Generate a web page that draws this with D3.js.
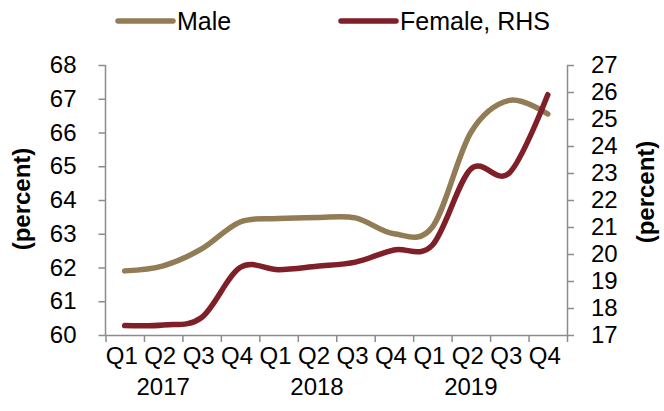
<!DOCTYPE html>
<html><head><meta charset="utf-8">
<script src="https://cdn.jsdelivr.net/npm/d3@7"></script>
<style>
body{margin:0;background:#fff}
svg{display:block}
text{font-family:"Liberation Sans",Arial,sans-serif;fill:#000}
</style>
</head><body><svg id="c" width="664" height="411"></svg>
<script>
const quarters = ["Q1","Q2","Q3","Q4","Q1","Q2","Q3","Q4","Q1","Q2","Q3","Q4"];
const years = ["2017","2018","2019"];
const male = [61.9, 62.05, 62.55, 63.35, 63.45, 63.48, 63.47, 63.0, 63.2, 66.0, 66.95, 66.55];
const female = [17.35, 17.37, 17.65, 19.5, 19.42, 19.55, 19.7, 20.15, 20.33, 23.15, 23.0, 25.9];
const leftTicks = [60, 61, 62, 63, 64, 65, 66, 67, 68];
const rightTicks = [17, 18, 19, 20, 21, 22, 23, 24, 25, 26, 27];
const seriesNames = ["Male", "Female, RHS"];
const colors = ["#927c56", "#7f1f28"];

const svg = d3.select("#c");
const AX = "#8c8c8c";
const FS = 24;

const x = d3.scaleLinear().domain([0, quarters.length]).range([105.5, 567]);
const yL = d3.scaleLinear().domain([60, 68]).range([335, 65]);
const yR = d3.scaleLinear().domain([17, 27]).range([335, 65]);

function styleAxis(g){
  g.selectAll("path,line").attr("stroke", AX).attr("stroke-width", 1.5);
  g.selectAll("text").style("font-size", FS + "px").attr("fill", "#000");
}

// left axis
svg.append("g").attr("transform", `translate(${x.range()[0]},0)`)
  .call(d3.axisLeft(yL).tickValues(leftTicks).tickSize(7).tickSizeOuter(0).tickPadding(22))
  .call(styleAxis).call(g => g.select(".domain").attr("d", `M0,${yL(68)}V${yL(60)}`));

// right axis
svg.append("g").attr("transform", `translate(${x.range()[1]},0)`)
  .call(d3.axisRight(yR).tickValues(rightTicks).tickSize(7).tickSizeOuter(0).tickPadding(17))
  .call(styleAxis);

// bottom axis
svg.append("g").attr("transform", `translate(0,${yL(60)})`)
  .call(d3.axisBottom(x).tickValues(d3.range(quarters.length + 1)).tickSize(7).tickSizeOuter(0).tickFormat(""))
  .call(styleAxis);

svg.append("g").selectAll("text").data(quarters).join("text")
  .attr("x", (d, i) => x(i + 0.5) - 3)
  .attr("y", 364)
  .attr("text-anchor", "middle")
  .style("font-size", FS + "px")
  .text(d => d);

svg.append("g").selectAll("text").data(years).join("text")
  .attr("x", (d, i) => x(i * 4 + 1.5))
  .attr("y", 395)
  .attr("text-anchor", "middle")
  .style("font-size", FS + "px")
  .text(d => d);

// axis titles
svg.append("text").attr("transform", `translate(30,199) rotate(-90)`)
  .attr("text-anchor", "middle").style("font-size", "24px").style("font-weight", "bold").text("(percent)");
svg.append("text").attr("transform", `translate(654,192) rotate(-90)`)
  .attr("text-anchor", "middle").style("font-size", "24px").style("font-weight", "bold").text("(percent)");

// lines
const curve = d3.curveCardinal.tension(0);
const lineL = d3.line().x((d, i) => x(i + 0.5)).y(d => yL(d)).curve(curve);
const lineR = d3.line().x((d, i) => x(i + 0.5)).y(d => yR(d)).curve(curve);
svg.append("path").attr("d", lineL(male)).attr("fill", "none").attr("stroke", colors[0])
  .attr("stroke-width", 5.5).attr("stroke-linecap", "round");
svg.append("path").attr("d", lineR(female)).attr("fill", "none").attr("stroke", colors[1])
  .attr("stroke-width", 5.5).attr("stroke-linecap", "round");

// legend
const leg = [{x: 118, name: seriesNames[0], c: colors[0]}, {x: 341, name: seriesNames[1], c: colors[1]}];
const lg = svg.append("g").selectAll("g").data(leg).join("g").attr("transform", d => `translate(${d.x},21)`);
lg.append("line").attr("x1", 0).attr("x2", 55).attr("stroke", d => d.c).attr("stroke-width", 5.5).attr("stroke-linecap", "round");
lg.append("text").attr("x", 59).attr("y", 9).style("font-size", "25px").text(d => d.name);
</script>
</body></html>
